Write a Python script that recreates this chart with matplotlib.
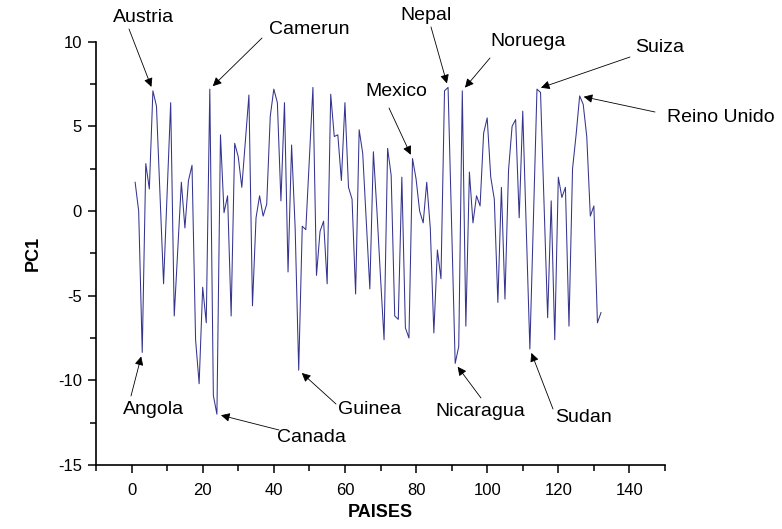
import matplotlib
matplotlib.use("Agg")
import matplotlib.pyplot as plt
from matplotlib.ticker import MultipleLocator

plt.rcParams['axes.unicode_minus'] = False

# PC1 score per country (index 1..132)
paises = list(range(1, 133))
pc1 = [1.7, 0.0, -8.35, 2.8, 1.3, 7.1, 6.2, 1.0, -4.3, 1.0,
       6.4, -6.2, -2.2, 1.7, -1.0, 1.8, 2.7, -7.6, -10.2, -4.5,
       -6.6, 7.2, -10.9, -12.0, 4.5, -0.1, 0.9, -6.2, 4.0, 3.2,
       1.4, 4.1, 6.85, -5.6, -0.4, 0.9, -0.3, 0.4, 5.6, 7.2,
       6.4, 0.6, 6.4, -3.6, 3.9, -1.0, -9.4, -0.9, -1.1, 3.1,
       7.3, -3.8, -1.2, -0.6, -4.3, 6.9, 4.4, 4.5, 1.8, 6.4,
       1.4, 0.7, -4.9, 4.8, 3.4, -0.6, -4.6, 3.5, 0.0, -3.9,
       -7.6, 3.7, 2.1, -6.2, -6.4, 2.0, -6.9, -7.5, 3.1, 1.9,
       0.0, -0.7, 1.7, -1.0, -7.2, -2.3, -4.0, 7.1, 7.3, -0.8,
       -9.0, -8.0, 7.1, -6.8, 2.3, -0.7, 0.9, 0.3, 4.6, 5.5,
       2.0, 0.7, -5.4, 1.4, -5.2, 2.4, 5.0, 5.4, -0.4, 5.9,
       -1.1, -8.15, -0.5, 7.2, 7.0, 0.4, -6.3, 0.6, -7.6, 2.0,
       0.8, 1.4, -6.8, 2.5, 4.5, 6.8, 6.3, 4.4, -0.3, 0.3,
       -6.6, -6.0]

# labelled countries: name, index, text centre (px from top-left), arrow tail (px)
etiquetas = [
    ("Austria", 6, (144, 18), (129, 29)),
    ("Camerun", 22, (309, 30), (262, 38)),
    ("Nepal", 89, (426, 16), (431, 27)),
    ("Noruega", 93, (528, 42), (490, 58)),
    ("Suiza", 114, (660, 48), (630, 57)),
    ("Mexico", 79, (396, 92), (389, 108)),
    ("Reino Unido", 126, (721, 117), (655, 112)),
    ("Angola", 3, (154, 409), (131, 396)),
    ("Canada", 24, (311, 437), (279, 430)),
    ("Guinea", 47, (370, 409), (336, 404)),
    ("Nicaragua", 91, (480, 412), (481, 398)),
    ("Sudan", 112, (583, 418), (553, 409)),
]

W, H = 782, 529
fig = plt.figure(figsize=(W / 100, H / 100), dpi=100)
ax = fig.add_axes([96 / W, 1 - 465 / H, (665 - 96) / W, (465 - 41.7) / H])

ax.plot(paises, pc1, color='#34348f', lw=0.75)

ax.set_xlim(-10, 150)
ax.set_ylim(-15, 10)
ax.xaxis.set_major_locator(MultipleLocator(20))
ax.xaxis.set_minor_locator(MultipleLocator(10))
ax.yaxis.set_major_locator(MultipleLocator(5))
ax.yaxis.set_minor_locator(MultipleLocator(2.5))
ax.spines['top'].set_visible(False)
ax.spines['right'].set_visible(False)
for s in ['left', 'bottom']:
    ax.spines[s].set_linewidth(1.2)
ax.tick_params(which='major', direction='out', length=6, width=1.1)
ax.tick_params(which='minor', direction='out', length=4, width=1.1)

fuente = ['Liberation Sans', 'DejaVu Sans']
for lab in ax.get_xticklabels() + ax.get_yticklabels():
    lab.set_family(fuente)
    lab.set_fontsize(12)
ax.tick_params(axis='x', pad=7)
ax.tick_params(axis='y', pad=4)

ax.set_xlabel("PAISES", family=fuente, fontsize=13, fontweight='bold', labelpad=4)
ax.set_ylabel("PC1", family=fuente, fontsize=13, fontweight='bold', labelpad=12)

for nombre, i, (tx, ty), (ax_, ay_) in etiquetas:
    fig.text(tx / W, 1 - ty / H, nombre, ha='center', va='center',
             family=fuente, fontsize=14)
    ax.annotate('', xy=(i, pc1[i - 1]), xytext=(ax_, H - ay_), textcoords='figure pixels',
                arrowprops=dict(arrowstyle='-|>', color='black', lw=0.6,
                                shrinkA=0, shrinkB=3, mutation_scale=13))

fig.savefig("out.png", dpi=100)
